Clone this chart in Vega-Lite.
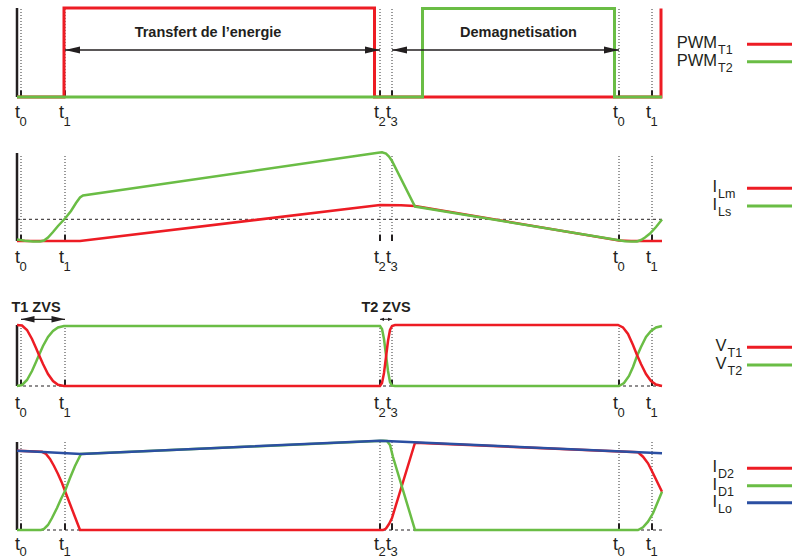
{
"$schema":"https://vega.github.io/schema/vega-lite/v6.json",
"background":"white",
"padding":0,
"spacing":0,
"bounds":"flush",
"config":{"view":{"stroke":null},"font":"Liberation Sans","text":{"font":"Liberation Sans","color":"#231f20"}},
"resolve":{"scale":{"x":"independent","y":"independent"}},
"datasets":{
"ticks":[{"t":0,"sub":"0"},{"t":4.4,"sub":"1"},{"t":35.9,"sub":"2"},{"t":37.1,"sub":"3"},{"t":59.8,"sub":"0"},{"t":63.1,"sub":"1"}],
"one":[{"k":1}],
"p1":[
{"s":"PWM_T1","i":0,"t":-0.4,"v":0},{"s":"PWM_T1","i":1,"t":4.3,"v":0},{"s":"PWM_T1","i":2,"t":4.3,"v":8.9},{"s":"PWM_T1","i":3,"t":35.35,"v":8.9},{"s":"PWM_T1","i":4,"t":35.35,"v":0},{"s":"PWM_T1","i":5,"t":64.0,"v":0},{"s":"PWM_T1","i":6,"t":64.0,"v":8.85},
{"s":"PWM_T2","i":0,"t":-0.4,"v":0},{"s":"PWM_T2","i":1,"t":40.15,"v":0},{"s":"PWM_T2","i":2,"t":40.15,"v":8.85},{"s":"PWM_T2","i":3,"t":59.35,"v":8.85},{"s":"PWM_T2","i":4,"t":59.35,"v":0},{"s":"PWM_T2","i":5,"t":64.1,"v":0}
],
"p2":[
{"s":"I_Lm","i":0,"t":-0.4,"v":0},{"s":"I_Lm","i":1,"t":5.9,"v":0},{"s":"I_Lm","i":2,"t":35.9,"v":3.6},{"s":"I_Lm","i":3,"t":38.0,"v":3.58},{"s":"I_Lm","i":4,"t":39.4,"v":3.5},{"s":"I_Lm","i":5,"t":59.8,"v":0.05},{"s":"I_Lm","i":6,"t":61.0,"v":0},{"s":"I_Lm","i":7,"t":64.1,"v":0},
{"s":"I_Ls","i":0,"t":-0.4,"v":0.15},{"s":"I_Ls","i":1,"t":0.4,"v":0.02},{"s":"I_Ls","i":2,"t":1.2,"v":-0.05},{"s":"I_Ls","i":3,"t":1.9,"v":-0.05},{"s":"I_Ls","i":4,"t":2.3,"v":0.05},{"s":"I_Ls","i":5,"t":2.7,"v":0.35},{"s":"I_Ls","i":6,"t":3.2,"v":0.9},{"s":"I_Ls","i":7,"t":3.7,"v":1.5},{"s":"I_Ls","i":8,"t":4.4,"v":2.25},{"s":"I_Ls","i":9,"t":5.0,"v":3.0},{"s":"I_Ls","i":10,"t":5.5,"v":3.8},{"s":"I_Ls","i":11,"t":5.9,"v":4.35},{"s":"I_Ls","i":12,"t":6.2,"v":4.55},{"s":"I_Ls","i":13,"t":35.7,"v":8.83},{"s":"I_Ls","i":14,"t":36.1,"v":8.88},{"s":"I_Ls","i":15,"t":36.5,"v":8.75},{"s":"I_Ls","i":16,"t":36.8,"v":8.45},{"s":"I_Ls","i":17,"t":37.1,"v":8.0},{"s":"I_Ls","i":18,"t":39.4,"v":3.45},{"s":"I_Ls","i":19,"t":59.8,"v":0.07},{"s":"I_Ls","i":20,"t":60.4,"v":-0.02},{"s":"I_Ls","i":21,"t":61.1,"v":-0.06},{"s":"I_Ls","i":22,"t":61.6,"v":-0.05},{"s":"I_Ls","i":23,"t":62.0,"v":0.1},{"s":"I_Ls","i":24,"t":62.4,"v":0.35},{"s":"I_Ls","i":25,"t":62.9,"v":0.75},{"s":"I_Ls","i":26,"t":63.5,"v":1.4},{"s":"I_Ls","i":27,"t":64.1,"v":2.15}
],
"p3":[
{"s":"V_T2","i":0,"t":-0.4,"v":0},{"s":"V_T2","i":1,"t":0.1,"v":0.1},{"s":"V_T2","i":2,"t":0.6,"v":0.6},{"s":"V_T2","i":3,"t":1.1,"v":1.5},{"s":"V_T2","i":4,"t":1.5,"v":2.4},{"s":"V_T2","i":5,"t":1.8,"v":3.1},{"s":"V_T2","i":6,"t":2.2,"v":4.0},{"s":"V_T2","i":7,"t":2.7,"v":4.9},{"s":"V_T2","i":8,"t":3.2,"v":5.5},{"s":"V_T2","i":9,"t":3.7,"v":5.85},{"s":"V_T2","i":10,"t":4.3,"v":6.0},{"s":"V_T2","i":11,"t":35.9,"v":6.0},{"s":"V_T2","i":12,"t":36.1,"v":5.7},{"s":"V_T2","i":13,"t":36.3,"v":4.7},{"s":"V_T2","i":14,"t":36.5,"v":3.1},{"s":"V_T2","i":15,"t":36.7,"v":1.5},{"s":"V_T2","i":16,"t":36.9,"v":0.4},{"s":"V_T2","i":17,"t":37.1,"v":0.05},{"s":"V_T2","i":18,"t":37.4,"v":0},{"s":"V_T2","i":19,"t":59.8,"v":0},{"s":"V_T2","i":20,"t":60.3,"v":0.3},{"s":"V_T2","i":21,"t":60.8,"v":1.0},{"s":"V_T2","i":22,"t":61.2,"v":1.9},{"s":"V_T2","i":23,"t":61.6,"v":3.0},{"s":"V_T2","i":24,"t":62.0,"v":3.9},{"s":"V_T2","i":25,"t":62.5,"v":4.9},{"s":"V_T2","i":26,"t":63.0,"v":5.5},{"s":"V_T2","i":27,"t":63.5,"v":5.85},{"s":"V_T2","i":28,"t":64.1,"v":6.0},
{"s":"V_T1","i":0,"t":-0.4,"v":6.1},{"s":"V_T1","i":1,"t":0.1,"v":6.05},{"s":"V_T1","i":2,"t":0.6,"v":5.6},{"s":"V_T1","i":3,"t":1.1,"v":4.7},{"s":"V_T1","i":4,"t":1.5,"v":3.8},{"s":"V_T1","i":5,"t":1.8,"v":3.1},{"s":"V_T1","i":6,"t":2.2,"v":2.2},{"s":"V_T1","i":7,"t":2.7,"v":1.2},{"s":"V_T1","i":8,"t":3.2,"v":0.5},{"s":"V_T1","i":9,"t":3.7,"v":0.12},{"s":"V_T1","i":10,"t":4.3,"v":0},{"s":"V_T1","i":11,"t":35.9,"v":0},{"s":"V_T1","i":12,"t":36.1,"v":0.3},{"s":"V_T1","i":13,"t":36.3,"v":1.3},{"s":"V_T1","i":14,"t":36.5,"v":2.9},{"s":"V_T1","i":15,"t":36.7,"v":4.5},{"s":"V_T1","i":16,"t":36.9,"v":5.6},{"s":"V_T1","i":17,"t":37.1,"v":6.0},{"s":"V_T1","i":18,"t":37.4,"v":6.1},{"s":"V_T1","i":19,"t":59.7,"v":6.1},{"s":"V_T1","i":20,"t":60.2,"v":5.85},{"s":"V_T1","i":21,"t":60.7,"v":5.2},{"s":"V_T1","i":22,"t":61.2,"v":4.1},{"s":"V_T1","i":23,"t":61.6,"v":3.1},{"s":"V_T1","i":24,"t":62.0,"v":2.2},{"s":"V_T1","i":25,"t":62.5,"v":1.2},{"s":"V_T1","i":26,"t":63.0,"v":0.5},{"s":"V_T1","i":27,"t":63.5,"v":0.15},{"s":"V_T1","i":28,"t":64.1,"v":0}
],
"p4":[
{"s":"I_D2","i":0,"t":-0.4,"v":7.93},{"s":"I_D2","i":1,"t":2.1,"v":7.82},{"s":"I_D2","i":2,"t":2.5,"v":7.6},{"s":"I_D2","i":3,"t":2.9,"v":7.1},{"s":"I_D2","i":4,"t":3.3,"v":6.4},{"s":"I_D2","i":5,"t":3.7,"v":5.6},{"s":"I_D2","i":6,"t":4.1,"v":4.7},{"s":"I_D2","i":7,"t":4.4,"v":3.9},{"s":"I_D2","i":8,"t":4.9,"v":2.6},{"s":"I_D2","i":9,"t":5.4,"v":1.3},{"s":"I_D2","i":10,"t":5.9,"v":0},{"s":"I_D2","i":11,"t":36.2,"v":0},{"s":"I_D2","i":12,"t":36.5,"v":0.15},{"s":"I_D2","i":13,"t":36.8,"v":0.6},{"s":"I_D2","i":14,"t":37.1,"v":1.2},{"s":"I_D2","i":15,"t":39.4,"v":8.73},{"s":"I_D2","i":16,"t":61.7,"v":7.77},{"s":"I_D2","i":17,"t":62.2,"v":7.33},{"s":"I_D2","i":18,"t":62.7,"v":6.67},{"s":"I_D2","i":19,"t":63.2,"v":5.67},{"s":"I_D2","i":20,"t":64.1,"v":3.83},
{"s":"I_D1","i":0,"t":-0.4,"v":0},{"s":"I_D1","i":1,"t":2.0,"v":0},{"s":"I_D1","i":2,"t":2.3,"v":0.1},{"s":"I_D1","i":3,"t":2.7,"v":0.5},{"s":"I_D1","i":4,"t":3.1,"v":1.2},{"s":"I_D1","i":5,"t":3.6,"v":2.2},{"s":"I_D1","i":6,"t":4.0,"v":3.1},{"s":"I_D1","i":7,"t":4.4,"v":3.9},{"s":"I_D1","i":8,"t":4.9,"v":5.2},{"s":"I_D1","i":9,"t":5.4,"v":6.4},{"s":"I_D1","i":10,"t":6.0,"v":7.6},{"s":"I_D1","i":11,"t":36.2,"v":8.92},{"s":"I_D1","i":12,"t":36.6,"v":8.9},{"s":"I_D1","i":13,"t":36.9,"v":8.5},{"s":"I_D1","i":14,"t":37.2,"v":7.3},{"s":"I_D1","i":15,"t":39.4,"v":0},{"s":"I_D1","i":16,"t":61.7,"v":0},{"s":"I_D1","i":17,"t":62.2,"v":0.27},{"s":"I_D1","i":18,"t":62.7,"v":0.83},{"s":"I_D1","i":19,"t":63.2,"v":1.67},{"s":"I_D1","i":20,"t":64.1,"v":3.83},
{"s":"I_Lo","i":0,"t":-0.4,"v":7.93},{"s":"I_Lo","i":1,"t":2.2,"v":7.8},{"s":"I_Lo","i":2,"t":6.0,"v":7.6},{"s":"I_Lo","i":3,"t":35.9,"v":8.93},{"s":"I_Lo","i":4,"t":64.1,"v":7.67}
],
"leg1":[{"s":"PWM_T1","m":"PWM","b":"T1","v":5.27},{"s":"PWM_T2","m":"PWM","b":"T2","v":3.53}],
"leg2":[{"s":"I_Lm","m":"I","b":"Lm","v":5.27},{"s":"I_Ls","m":"I","b":"Ls","v":3.5}],
"leg3":[{"s":"V_T1","m":"V","b":"T1","v":3.87},{"s":"V_T2","m":"V","b":"T2","v":2.1}],
"leg4":[{"s":"I_D2","m":"I","b":"D2","v":6.17},{"s":"I_D1","m":"I","b":"D1","v":4.43},{"s":"I_Lo","m":"I","b":"Lo","v":2.73}],
"arr1":[{"t":4.4,"t2":35.9,"v":4.7},{"t":37.1,"t2":59.8,"v":4.7}],
"note1":[{"t":18.7,"v":6.0,"txt":"Transfert de l’energie"},{"t":49.75,"v":6.0,"txt":"Demagnetisation"}],
"arr3a":[{"t":0.0,"t2":4.4,"v":6.67}],
"arr3b":[{"t":35.9,"t2":37.1,"v":6.67}],
"note3":[{"t":1.5,"v":7.45,"txt":"T1 ZVS"},{"t":36.5,"v":7.45,"txt":"T2 ZVS"}]
},
"vconcat":[
{
"width":792,"height":130,
"layer":[
{"data":{"name":"ticks"},"mark":{"type":"rule","color":"#333333","strokeWidth":1,"strokeDash":[1,2]},"encoding":{"x":{"field":"t","type":"quantitative","scale":{"domain":[-2.1,77.1],"nice":false,"zero":false},"axis":null},"y":{"datum":0,"type":"quantitative","scale":{"domain":[-3.3,9.7],"nice":false,"zero":false},"axis":null},"y2":{"datum":8.9}}},
{"data":{"name":"one"},"mark":{"type":"rule","color":"#231f20","strokeWidth":2.5},"encoding":{"x":{"datum":-0.4,"type":"quantitative","scale":{"domain":[-2.1,77.1],"nice":false,"zero":false},"axis":null},"y":{"datum":0,"type":"quantitative","scale":{"domain":[-3.3,9.7],"nice":false,"zero":false},"axis":null},"y2":{"datum":8.9}}},
{"data":{"name":"ticks"},"mark":{"type":"rule","color":"#231f20","strokeWidth":2},"encoding":{"x":{"field":"t","type":"quantitative","scale":{"domain":[-2.1,77.1],"nice":false,"zero":false},"axis":null},"y":{"datum":0,"type":"quantitative","scale":{"domain":[-3.3,9.7],"nice":false,"zero":false},"axis":null},"y2":{"datum":0.65}}},
{"data":{"name":"p1"},"transform":[{"filter":"datum.s==='PWM_T1'"}],"mark":{"type":"line","strokeWidth":3,"strokeJoin":"miter"},"encoding":{"x":{"field":"t","type":"quantitative","scale":{"domain":[-2.1,77.1],"nice":false,"zero":false},"axis":null},"y":{"field":"v","type":"quantitative","scale":{"domain":[-3.3,9.7],"nice":false,"zero":false},"axis":null},"order":{"field":"i","type":"quantitative"},"color":{"field":"s","type":"nominal","scale":{"domain":["PWM_T1","PWM_T2","I_Lm","I_Ls","V_T1","V_T2","I_D2","I_D1","I_Lo"],"range":["#ed1c24","#6abd45","#ed1c24","#6abd45","#ed1c24","#6abd45","#ed1c24","#6abd45","#2b4fa2"]},"legend":null}}},
{"data":{"name":"p1"},"transform":[{"filter":"datum.s==='PWM_T2'"}],"mark":{"type":"line","strokeWidth":3,"strokeJoin":"miter"},"encoding":{"x":{"field":"t","type":"quantitative","scale":{"domain":[-2.1,77.1],"nice":false,"zero":false},"axis":null},"y":{"field":"v","type":"quantitative","scale":{"domain":[-3.3,9.7],"nice":false,"zero":false},"axis":null},"order":{"field":"i","type":"quantitative"},"color":{"field":"s","type":"nominal","legend":null}}},
{"data":{"name":"arr1"},"mark":{"type":"rule","color":"#231f20","strokeWidth":1.3},"encoding":{"x":{"field":"t","type":"quantitative","scale":{"domain":[-2.1,77.1],"nice":false,"zero":false},"axis":null},"x2":{"field":"t2"},"y":{"field":"v","type":"quantitative","scale":{"domain":[-3.3,9.7],"nice":false,"zero":false},"axis":null}}},
{"data":{"name":"arr1"},"mark":{"type":"point","shape":"M0,0L1,-0.24L1,0.24Z","filled":true,"size":900,"color":"#231f20","opacity":1},"encoding":{"x":{"field":"t","type":"quantitative","scale":{"domain":[-2.1,77.1],"nice":false,"zero":false},"axis":null},"y":{"field":"v","type":"quantitative","scale":{"domain":[-3.3,9.7],"nice":false,"zero":false},"axis":null}}},
{"data":{"name":"arr1"},"mark":{"type":"point","shape":"M0,0L-1,-0.24L-1,0.24Z","filled":true,"size":900,"color":"#231f20","opacity":1},"encoding":{"x":{"field":"t2","type":"quantitative","scale":{"domain":[-2.1,77.1],"nice":false,"zero":false},"axis":null},"y":{"field":"v","type":"quantitative","scale":{"domain":[-3.3,9.7],"nice":false,"zero":false},"axis":null}}},
{"data":{"name":"note1"},"mark":{"type":"text","fontSize":14.5,"fontWeight":"bold","align":"center","baseline":"alphabetic"},"encoding":{"x":{"field":"t","type":"quantitative","scale":{"domain":[-2.1,77.1],"nice":false,"zero":false},"axis":null},"y":{"field":"v","type":"quantitative","scale":{"domain":[-3.3,9.7],"nice":false,"zero":false},"axis":null},"text":{"field":"txt"}}},
{"data":{"name":"ticks"},"mark":{"type":"text","text":"t","align":"right","baseline":"alphabetic","dx":-1,"dy":21.3,"fontSize":18},"encoding":{"x":{"field":"t","type":"quantitative","scale":{"domain":[-2.1,77.1],"nice":false,"zero":false},"axis":null},"y":{"datum":0,"type":"quantitative","scale":{"domain":[-3.3,9.7],"nice":false,"zero":false},"axis":null}}},
{"data":{"name":"ticks"},"mark":{"type":"text","align":"left","baseline":"alphabetic","dx":-1.5,"dy":29,"fontSize":13},"encoding":{"x":{"field":"t","type":"quantitative","scale":{"domain":[-2.1,77.1],"nice":false,"zero":false},"axis":null},"y":{"datum":0,"type":"quantitative","scale":{"domain":[-3.3,9.7],"nice":false,"zero":false},"axis":null},"text":{"field":"sub"}}},
{"data":{"name":"leg1"},"mark":{"type":"rule","strokeWidth":3},"encoding":{"x":{"datum":72.6,"type":"quantitative","scale":{"domain":[-2.1,77.1],"nice":false,"zero":false},"axis":null},"x2":{"datum":77.1},"y":{"field":"v","type":"quantitative","scale":{"domain":[-3.3,9.7],"nice":false,"zero":false},"axis":null},"color":{"field":"s","type":"nominal","legend":null}}},
{"data":{"name":"leg1"},"mark":{"type":"text","align":"right","baseline":"alphabetic","fontSize":16.5,"dx":-0.5,"dy":4},"encoding":{"x":{"datum":69.65,"type":"quantitative","scale":{"domain":[-2.1,77.1],"nice":false,"zero":false},"axis":null},"y":{"field":"v","type":"quantitative","scale":{"domain":[-3.3,9.7],"nice":false,"zero":false},"axis":null},"text":{"field":"m"}}},
{"data":{"name":"leg1"},"mark":{"type":"text","align":"left","baseline":"alphabetic","fontSize":12.5,"dx":0.5,"dy":10},"encoding":{"x":{"datum":69.65,"type":"quantitative","scale":{"domain":[-2.1,77.1],"nice":false,"zero":false},"axis":null},"y":{"field":"v","type":"quantitative","scale":{"domain":[-3.3,9.7],"nice":false,"zero":false},"axis":null},"text":{"field":"b"}}}
]
},
{
"width":792,"height":160,
"layer":[
{"data":{"name":"ticks"},"mark":{"type":"rule","color":"#333333","strokeWidth":1,"strokeDash":[1,2]},"encoding":{"x":{"field":"t","type":"quantitative","scale":{"domain":[-2.1,77.1],"nice":false,"zero":false},"axis":null},"y":{"datum":0,"type":"quantitative","scale":{"domain":[-4.9,11.1],"nice":false,"zero":false},"axis":null},"y2":{"datum":8.7}}},
{"data":{"name":"one"},"mark":{"type":"rule","color":"#231f20","strokeWidth":1,"strokeDash":[3,3]},"encoding":{"x":{"datum":-0.4,"type":"quantitative","scale":{"domain":[-2.1,77.1],"nice":false,"zero":false},"axis":null},"x2":{"datum":64.1},"y":{"datum":2.17,"type":"quantitative","scale":{"domain":[-4.9,11.1],"nice":false,"zero":false},"axis":null}}},
{"data":{"name":"one"},"mark":{"type":"rule","color":"#231f20","strokeWidth":2.5},"encoding":{"x":{"datum":-0.4,"type":"quantitative","scale":{"domain":[-2.1,77.1],"nice":false,"zero":false},"axis":null},"y":{"datum":0,"type":"quantitative","scale":{"domain":[-4.9,11.1],"nice":false,"zero":false},"axis":null},"y2":{"datum":8.8}}},
{"data":{"name":"ticks"},"mark":{"type":"rule","color":"#231f20","strokeWidth":2},"encoding":{"x":{"field":"t","type":"quantitative","scale":{"domain":[-2.1,77.1],"nice":false,"zero":false},"axis":null},"y":{"datum":0,"type":"quantitative","scale":{"domain":[-4.9,11.1],"nice":false,"zero":false},"axis":null},"y2":{"datum":0.6}}},
{"data":{"name":"p2"},"transform":[{"filter":"datum.s==='I_Lm'"}],"mark":{"type":"line","strokeWidth":2.5},"encoding":{"x":{"field":"t","type":"quantitative","scale":{"domain":[-2.1,77.1],"nice":false,"zero":false},"axis":null},"y":{"field":"v","type":"quantitative","scale":{"domain":[-4.9,11.1],"nice":false,"zero":false},"axis":null},"order":{"field":"i","type":"quantitative"},"color":{"field":"s","type":"nominal","legend":null}}},
{"data":{"name":"p2"},"transform":[{"filter":"datum.s==='I_Ls'"}],"mark":{"type":"line","strokeWidth":2.5},"encoding":{"x":{"field":"t","type":"quantitative","scale":{"domain":[-2.1,77.1],"nice":false,"zero":false},"axis":null},"y":{"field":"v","type":"quantitative","scale":{"domain":[-4.9,11.1],"nice":false,"zero":false},"axis":null},"order":{"field":"i","type":"quantitative"},"color":{"field":"s","type":"nominal","legend":null}}},
{"data":{"name":"ticks"},"mark":{"type":"text","text":"t","align":"right","baseline":"alphabetic","dx":-1,"dy":21.7,"fontSize":18},"encoding":{"x":{"field":"t","type":"quantitative","scale":{"domain":[-2.1,77.1],"nice":false,"zero":false},"axis":null},"y":{"datum":0,"type":"quantitative","scale":{"domain":[-4.9,11.1],"nice":false,"zero":false},"axis":null}}},
{"data":{"name":"ticks"},"mark":{"type":"text","align":"left","baseline":"alphabetic","dx":-1.5,"dy":29.5,"fontSize":13},"encoding":{"x":{"field":"t","type":"quantitative","scale":{"domain":[-2.1,77.1],"nice":false,"zero":false},"axis":null},"y":{"datum":0,"type":"quantitative","scale":{"domain":[-4.9,11.1],"nice":false,"zero":false},"axis":null},"text":{"field":"sub"}}},
{"data":{"name":"leg2"},"mark":{"type":"rule","strokeWidth":3},"encoding":{"x":{"datum":72.6,"type":"quantitative","scale":{"domain":[-2.1,77.1],"nice":false,"zero":false},"axis":null},"x2":{"datum":77.1},"y":{"field":"v","type":"quantitative","scale":{"domain":[-4.9,11.1],"nice":false,"zero":false},"axis":null},"color":{"field":"s","type":"nominal","legend":null}}},
{"data":{"name":"leg2"},"mark":{"type":"text","align":"right","baseline":"alphabetic","fontSize":16.5,"dx":-0.5,"dy":4},"encoding":{"x":{"datum":69.65,"type":"quantitative","scale":{"domain":[-2.1,77.1],"nice":false,"zero":false},"axis":null},"y":{"field":"v","type":"quantitative","scale":{"domain":[-4.9,11.1],"nice":false,"zero":false},"axis":null},"text":{"field":"m"}}},
{"data":{"name":"leg2"},"mark":{"type":"text","align":"left","baseline":"alphabetic","fontSize":12.5,"dx":0.5,"dy":10},"encoding":{"x":{"datum":69.65,"type":"quantitative","scale":{"domain":[-2.1,77.1],"nice":false,"zero":false},"axis":null},"y":{"field":"v","type":"quantitative","scale":{"domain":[-4.9,11.1],"nice":false,"zero":false},"axis":null},"text":{"field":"b"}}}
]
},
{
"width":792,"height":130,
"layer":[
{"data":{"name":"ticks"},"mark":{"type":"rule","color":"#333333","strokeWidth":1,"strokeDash":[1,2]},"encoding":{"x":{"field":"t","type":"quantitative","scale":{"domain":[-2.1,77.1],"nice":false,"zero":false},"axis":null},"y":{"datum":0,"type":"quantitative","scale":{"domain":[-3.4,9.6],"nice":false,"zero":false},"axis":null},"y2":{"datum":6.1}}},
{"data":{"name":"one"},"mark":{"type":"rule","color":"#231f20","strokeWidth":1,"strokeDash":[3,3]},"encoding":{"x":{"datum":-0.4,"type":"quantitative","scale":{"domain":[-2.1,77.1],"nice":false,"zero":false},"axis":null},"x2":{"datum":64.1},"y":{"datum":0,"type":"quantitative","scale":{"domain":[-3.4,9.6],"nice":false,"zero":false},"axis":null}}},
{"data":{"name":"one"},"mark":{"type":"rule","color":"#231f20","strokeWidth":2.5},"encoding":{"x":{"datum":-0.4,"type":"quantitative","scale":{"domain":[-2.1,77.1],"nice":false,"zero":false},"axis":null},"y":{"datum":0,"type":"quantitative","scale":{"domain":[-3.4,9.6],"nice":false,"zero":false},"axis":null},"y2":{"datum":6.1}}},
{"data":{"name":"ticks"},"mark":{"type":"rule","color":"#231f20","strokeWidth":2},"encoding":{"x":{"field":"t","type":"quantitative","scale":{"domain":[-2.1,77.1],"nice":false,"zero":false},"axis":null},"y":{"datum":0,"type":"quantitative","scale":{"domain":[-3.4,9.6],"nice":false,"zero":false},"axis":null},"y2":{"datum":0.6}}},
{"data":{"name":"p3"},"transform":[{"filter":"datum.s==='V_T2'"}],"mark":{"type":"line","strokeWidth":2.5},"encoding":{"x":{"field":"t","type":"quantitative","scale":{"domain":[-2.1,77.1],"nice":false,"zero":false},"axis":null},"y":{"field":"v","type":"quantitative","scale":{"domain":[-3.4,9.6],"nice":false,"zero":false},"axis":null},"order":{"field":"i","type":"quantitative"},"color":{"field":"s","type":"nominal","legend":null}}},
{"data":{"name":"p3"},"transform":[{"filter":"datum.s==='V_T1'"}],"mark":{"type":"line","strokeWidth":2.5},"encoding":{"x":{"field":"t","type":"quantitative","scale":{"domain":[-2.1,77.1],"nice":false,"zero":false},"axis":null},"y":{"field":"v","type":"quantitative","scale":{"domain":[-3.4,9.6],"nice":false,"zero":false},"axis":null},"order":{"field":"i","type":"quantitative"},"color":{"field":"s","type":"nominal","legend":null}}},
{"data":{"name":"arr3a"},"mark":{"type":"rule","color":"#231f20","strokeWidth":1.3},"encoding":{"x":{"field":"t","type":"quantitative","scale":{"domain":[-2.1,77.1],"nice":false,"zero":false},"axis":null},"x2":{"field":"t2"},"y":{"field":"v","type":"quantitative","scale":{"domain":[-3.4,9.6],"nice":false,"zero":false},"axis":null}}},
{"data":{"name":"arr3a"},"mark":{"type":"point","shape":"M0,0L1,-0.24L1,0.24Z","filled":true,"size":729,"color":"#231f20","opacity":1},"encoding":{"x":{"field":"t","type":"quantitative","scale":{"domain":[-2.1,77.1],"nice":false,"zero":false},"axis":null},"y":{"field":"v","type":"quantitative","scale":{"domain":[-3.4,9.6],"nice":false,"zero":false},"axis":null}}},
{"data":{"name":"arr3a"},"mark":{"type":"point","shape":"M0,0L-1,-0.24L-1,0.24Z","filled":true,"size":729,"color":"#231f20","opacity":1},"encoding":{"x":{"field":"t2","type":"quantitative","scale":{"domain":[-2.1,77.1],"nice":false,"zero":false},"axis":null},"y":{"field":"v","type":"quantitative","scale":{"domain":[-3.4,9.6],"nice":false,"zero":false},"axis":null}}},
{"data":{"name":"arr3b"},"mark":{"type":"rule","color":"#231f20","strokeWidth":1},"encoding":{"x":{"field":"t","type":"quantitative","scale":{"domain":[-2.1,77.1],"nice":false,"zero":false},"axis":null},"x2":{"field":"t2"},"y":{"field":"v","type":"quantitative","scale":{"domain":[-3.4,9.6],"nice":false,"zero":false},"axis":null}}},
{"data":{"name":"arr3b"},"mark":{"type":"point","shape":"M0,0L1,-0.4L1,0.4Z","filled":true,"size":64,"color":"#231f20","opacity":1},"encoding":{"x":{"field":"t","type":"quantitative","scale":{"domain":[-2.1,77.1],"nice":false,"zero":false},"axis":null},"y":{"field":"v","type":"quantitative","scale":{"domain":[-3.4,9.6],"nice":false,"zero":false},"axis":null}}},
{"data":{"name":"arr3b"},"mark":{"type":"point","shape":"M0,0L-1,-0.4L-1,0.4Z","filled":true,"size":64,"color":"#231f20","opacity":1},"encoding":{"x":{"field":"t2","type":"quantitative","scale":{"domain":[-2.1,77.1],"nice":false,"zero":false},"axis":null},"y":{"field":"v","type":"quantitative","scale":{"domain":[-3.4,9.6],"nice":false,"zero":false},"axis":null}}},
{"data":{"name":"note3"},"mark":{"type":"text","fontSize":14.5,"fontWeight":"bold","align":"center","baseline":"alphabetic"},"encoding":{"x":{"field":"t","type":"quantitative","scale":{"domain":[-2.1,77.1],"nice":false,"zero":false},"axis":null},"y":{"field":"v","type":"quantitative","scale":{"domain":[-3.4,9.6],"nice":false,"zero":false},"axis":null},"text":{"field":"txt"}}},
{"data":{"name":"ticks"},"mark":{"type":"text","text":"t","align":"right","baseline":"alphabetic","dx":-1,"dy":23,"fontSize":18},"encoding":{"x":{"field":"t","type":"quantitative","scale":{"domain":[-2.1,77.1],"nice":false,"zero":false},"axis":null},"y":{"datum":0,"type":"quantitative","scale":{"domain":[-3.4,9.6],"nice":false,"zero":false},"axis":null}}},
{"data":{"name":"ticks"},"mark":{"type":"text","align":"left","baseline":"alphabetic","dx":-1.5,"dy":31,"fontSize":13},"encoding":{"x":{"field":"t","type":"quantitative","scale":{"domain":[-2.1,77.1],"nice":false,"zero":false},"axis":null},"y":{"datum":0,"type":"quantitative","scale":{"domain":[-3.4,9.6],"nice":false,"zero":false},"axis":null},"text":{"field":"sub"}}},
{"data":{"name":"leg3"},"mark":{"type":"rule","strokeWidth":3},"encoding":{"x":{"datum":72.6,"type":"quantitative","scale":{"domain":[-2.1,77.1],"nice":false,"zero":false},"axis":null},"x2":{"datum":77.1},"y":{"field":"v","type":"quantitative","scale":{"domain":[-3.4,9.6],"nice":false,"zero":false},"axis":null},"color":{"field":"s","type":"nominal","legend":null}}},
{"data":{"name":"leg3"},"mark":{"type":"text","align":"right","baseline":"alphabetic","fontSize":16.5,"dx":-0.5,"dy":4},"encoding":{"x":{"datum":70.6,"type":"quantitative","scale":{"domain":[-2.1,77.1],"nice":false,"zero":false},"axis":null},"y":{"field":"v","type":"quantitative","scale":{"domain":[-3.4,9.6],"nice":false,"zero":false},"axis":null},"text":{"field":"m"}}},
{"data":{"name":"leg3"},"mark":{"type":"text","align":"left","baseline":"alphabetic","fontSize":12.5,"dx":0.5,"dy":10},"encoding":{"x":{"datum":70.6,"type":"quantitative","scale":{"domain":[-2.1,77.1],"nice":false,"zero":false},"axis":null},"y":{"field":"v","type":"quantitative","scale":{"domain":[-3.4,9.6],"nice":false,"zero":false},"axis":null},"text":{"field":"b"}}}
]
},
{
"width":792,"height":140,
"layer":[
{"data":{"name":"ticks"},"mark":{"type":"rule","color":"#333333","strokeWidth":1,"strokeDash":[1,2]},"encoding":{"x":{"field":"t","type":"quantitative","scale":{"domain":[-2.1,77.1],"nice":false,"zero":false},"axis":null},"y":{"datum":0,"type":"quantitative","scale":{"domain":[-3.0,11.0],"nice":false,"zero":false},"axis":null},"y2":{"datum":8.8}}},
{"data":{"name":"one"},"mark":{"type":"rule","color":"#231f20","strokeWidth":1,"strokeDash":[3,3]},"encoding":{"x":{"datum":-0.4,"type":"quantitative","scale":{"domain":[-2.1,77.1],"nice":false,"zero":false},"axis":null},"x2":{"datum":64.1},"y":{"datum":0,"type":"quantitative","scale":{"domain":[-3.0,11.0],"nice":false,"zero":false},"axis":null}}},
{"data":{"name":"one"},"mark":{"type":"rule","color":"#231f20","strokeWidth":2.5},"encoding":{"x":{"datum":-0.4,"type":"quantitative","scale":{"domain":[-2.1,77.1],"nice":false,"zero":false},"axis":null},"y":{"datum":0,"type":"quantitative","scale":{"domain":[-3.0,11.0],"nice":false,"zero":false},"axis":null},"y2":{"datum":8.8}}},
{"data":{"name":"ticks"},"mark":{"type":"rule","color":"#231f20","strokeWidth":2},"encoding":{"x":{"field":"t","type":"quantitative","scale":{"domain":[-2.1,77.1],"nice":false,"zero":false},"axis":null},"y":{"datum":0,"type":"quantitative","scale":{"domain":[-3.0,11.0],"nice":false,"zero":false},"axis":null},"y2":{"datum":0.65}}},
{"data":{"name":"p4"},"transform":[{"filter":"datum.s==='I_D2'"}],"mark":{"type":"line","strokeWidth":2.5},"encoding":{"x":{"field":"t","type":"quantitative","scale":{"domain":[-2.1,77.1],"nice":false,"zero":false},"axis":null},"y":{"field":"v","type":"quantitative","scale":{"domain":[-3.0,11.0],"nice":false,"zero":false},"axis":null},"order":{"field":"i","type":"quantitative"},"color":{"field":"s","type":"nominal","legend":null}}},
{"data":{"name":"p4"},"transform":[{"filter":"datum.s==='I_D1'"}],"mark":{"type":"line","strokeWidth":2.5},"encoding":{"x":{"field":"t","type":"quantitative","scale":{"domain":[-2.1,77.1],"nice":false,"zero":false},"axis":null},"y":{"field":"v","type":"quantitative","scale":{"domain":[-3.0,11.0],"nice":false,"zero":false},"axis":null},"order":{"field":"i","type":"quantitative"},"color":{"field":"s","type":"nominal","legend":null}}},
{"data":{"name":"p4"},"transform":[{"filter":"datum.s==='I_Lo'"}],"mark":{"type":"line","strokeWidth":2.5},"encoding":{"x":{"field":"t","type":"quantitative","scale":{"domain":[-2.1,77.1],"nice":false,"zero":false},"axis":null},"y":{"field":"v","type":"quantitative","scale":{"domain":[-3.0,11.0],"nice":false,"zero":false},"axis":null},"order":{"field":"i","type":"quantitative"},"color":{"field":"s","type":"nominal","legend":null}}},
{"data":{"name":"ticks"},"mark":{"type":"text","text":"t","align":"right","baseline":"alphabetic","dx":-1,"dy":19.5,"fontSize":18},"encoding":{"x":{"field":"t","type":"quantitative","scale":{"domain":[-2.1,77.1],"nice":false,"zero":false},"axis":null},"y":{"datum":0,"type":"quantitative","scale":{"domain":[-3.0,11.0],"nice":false,"zero":false},"axis":null}}},
{"data":{"name":"ticks"},"mark":{"type":"text","align":"left","baseline":"alphabetic","dx":-1.5,"dy":26,"fontSize":13},"encoding":{"x":{"field":"t","type":"quantitative","scale":{"domain":[-2.1,77.1],"nice":false,"zero":false},"axis":null},"y":{"datum":0,"type":"quantitative","scale":{"domain":[-3.0,11.0],"nice":false,"zero":false},"axis":null},"text":{"field":"sub"}}},
{"data":{"name":"leg4"},"mark":{"type":"rule","strokeWidth":3},"encoding":{"x":{"datum":72.6,"type":"quantitative","scale":{"domain":[-2.1,77.1],"nice":false,"zero":false},"axis":null},"x2":{"datum":77.1},"y":{"field":"v","type":"quantitative","scale":{"domain":[-3.0,11.0],"nice":false,"zero":false},"axis":null},"color":{"field":"s","type":"nominal","legend":null}}},
{"data":{"name":"leg4"},"mark":{"type":"text","align":"right","baseline":"alphabetic","fontSize":16.5,"dx":-0.5,"dy":4},"encoding":{"x":{"datum":69.65,"type":"quantitative","scale":{"domain":[-2.1,77.1],"nice":false,"zero":false},"axis":null},"y":{"field":"v","type":"quantitative","scale":{"domain":[-3.0,11.0],"nice":false,"zero":false},"axis":null},"text":{"field":"m"}}},
{"data":{"name":"leg4"},"mark":{"type":"text","align":"left","baseline":"alphabetic","fontSize":12.5,"dx":0.5,"dy":10},"encoding":{"x":{"datum":69.65,"type":"quantitative","scale":{"domain":[-2.1,77.1],"nice":false,"zero":false},"axis":null},"y":{"field":"v","type":"quantitative","scale":{"domain":[-3.0,11.0],"nice":false,"zero":false},"axis":null},"text":{"field":"b"}}}
]
}
]
}
